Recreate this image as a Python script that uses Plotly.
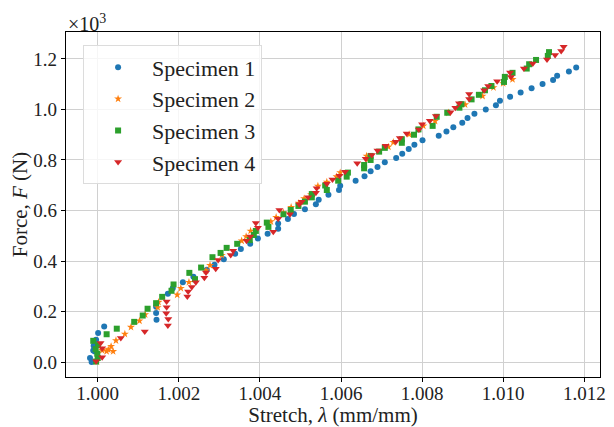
import plotly.graph_objects as go

# Specimen 1
s1_x = [0.99985, 0.99981, 0.99989, 0.99993, 0.99990, 0.99996, 1.00001, 1.00016, 1.00145, 1.00144,
        1.00144, 1.00173, 1.00185, 1.00210, 1.00236, 1.00269, 1.00288, 1.00311, 1.00339, 1.00353,
        1.00376, 1.00395, 1.00419, 1.00445, 1.00445, 1.00469, 1.00484, 1.00511, 1.00538, 1.00545,
        1.00569, 1.00595, 1.00598, 1.00636, 1.00658, 1.00673, 1.00690, 1.00708, 1.00736, 1.00751,
        1.00767, 1.00781, 1.00801, 1.00841, 1.00860, 1.00877, 1.00899, 1.00912, 1.00929, 1.00957,
        1.00982, 1.00992, 1.01017, 1.01043, 1.01070, 1.01097, 1.01123, 1.01133, 1.01162, 1.01180]
s1_y = [0, 16, 46, 42, 64, 88, 115, 141, 167, 194,
        219, 270, 292, 316, 338, 365, 385, 407, 429, 448,
        468, 489, 508, 528, 548, 566, 586, 605, 625, 643,
        662, 681, 698, 718, 736, 755, 772, 791, 808, 825,
        843, 860, 878, 896, 913, 930, 947, 966, 983, 1000,
        1017, 1034, 1050, 1067, 1084, 1101, 1117, 1133, 1150, 1166]

# Specimen 2
s2_x = [0.99998, 1.00011, 1.00022, 1.00026, 1.00033, 1.00038, 1.00045, 1.00067, 1.00082, 1.00103,
        1.00117, 1.00148, 1.00150, 1.00196, 1.00205, 1.00225, 1.00267, 1.00277, 1.00306, 1.00355,
        1.00366, 1.00377, 1.00427, 1.00440, 1.00458, 1.00477, 1.00496, 1.00509, 1.00526, 1.00543,
        1.00565, 1.00589, 1.00598, 1.00663, 1.00667, 1.00717, 1.00729, 1.00768, 1.00803, 1.00832,
        1.00865, 1.00906, 1.00949, 1.00976, 1.01000, 1.01023]
s2_y = [2, 46, 42, 49, 62, 42, 85, 111, 138, 163,
        188, 216, 237, 266, 292, 316, 362, 383, 423, 480,
        497, 519, 556, 573, 591, 613, 629, 647, 663, 697,
        713, 734, 750, 816, 803, 852, 870, 901, 935, 954,
        987, 1019, 1053, 1087, 1103, 1119]

# Specimen 3
s3_x = [0.99996, 1.00000, 0.99999, 0.99995, 1.00001, 0.99989, 1.00022, 1.00047, 1.00090, 1.00111,
        1.00123, 1.00144, 1.00159, 1.00182, 1.00187, 1.00226, 1.00240, 1.00255, 1.00283, 1.00303,
        1.00318, 1.00344, 1.00375, 1.00385, 1.00390, 1.00417, 1.00421, 1.00458, 1.00476, 1.00495,
        1.00511, 1.00528, 1.00528, 1.00561, 1.00565, 1.00593, 1.00614, 1.00617, 1.00657, 1.00657,
        1.00673, 1.00673, 1.00694, 1.00708, 1.00750, 1.00750, 1.00780, 1.00791, 1.00826, 1.00836,
        1.00862, 1.00892, 1.00897, 1.00922, 1.00940, 1.00955, 1.00971, 1.01002, 1.01004, 1.01023,
        1.01058, 1.01064, 1.01081, 1.01110, 1.01113]
s3_y = [2, 16, 33, 51, 67, 84, 110, 132, 159, 184,
        211, 233, 258, 282, 307, 353, 328, 374, 415, 432,
        452, 468, 483, 503, 519, 552, 535, 585, 602, 618,
        635, 652, 665, 699, 681, 718, 734, 750, 767, 780,
        800, 816, 833, 848, 868, 882, 900, 921, 935, 971,
        987, 1007, 1021, 1040, 1058, 1076, 1093, 1109, 1129, 1145,
        1162, 1179, 1196, 1212, 1227]

# Specimen 4
s4_x = [0.99996, 1.00011, 1.00007, 1.00011, 1.00057, 1.00116, 1.00173, 1.00174, 1.00169, 1.00170,
        1.00170, 1.00221, 1.00223, 1.00232, 1.00242, 1.00263, 1.00267, 1.00291, 1.00297, 1.00328,
        1.00334, 1.00367, 1.00376, 1.00390, 1.00395, 1.00433, 1.00448, 1.00445, 1.00474, 1.00497,
        1.00503, 1.00519, 1.00538, 1.00540, 1.00565, 1.00579, 1.00596, 1.00610, 1.00640, 1.00661,
        1.00676, 1.00690, 1.00710, 1.00735, 1.00745, 1.00762, 1.00792, 1.00800, 1.00819, 1.00834,
        1.00870, 1.00882, 1.00891, 1.00916, 1.00916, 1.00953, 1.00963, 1.00985, 1.01017, 1.01019,
        1.01051, 1.01073, 1.01108, 1.01128, 1.01143, 1.01149]
s4_y = [3, 19, 75, 55, 95, 121, 145, 170, 193, 217,
        240, 259, 279, 297, 316, 334, 354, 369, 404, 424,
        441, 480, 497, 550, 532, 516, 602, 567, 585, 625,
        635, 652, 670, 688, 706, 723, 738, 753, 787, 805,
        820, 838, 856, 872, 887, 905, 921, 941, 955, 974,
        989, 1007, 1025, 1061, 1041, 1076, 1093, 1112, 1146, 1129,
        1162, 1182, 1198, 1216, 1231, 1248]

names = ["Specimen 1", "Specimen 2", "Specimen 3", "Specimen 4"]
colors = ["#1f77b4", "#ff7f0e", "#2ca02c", "#d62728"]
symbols = ["circle", "star", "square", "triangle-down"]
sizes = [6, 6, 6, 7]

x_ticks = [1.000, 1.002, 1.004, 1.006, 1.008, 1.010, 1.012]
y_ticks = [0, 200, 400, 600, 800, 1000, 1200]
y_ticktext = ["0.0", "0.2", "0.4", "0.6", "0.8", "1.0", "1.2"]

FONT = "Liberation Serif"

fig = go.Figure()
for i, (xs, ys) in enumerate([(s1_x, s1_y), (s2_x, s2_y), (s3_x, s3_y), (s4_x, s4_y)]):
    fig.add_trace(go.Scatter(
        x=xs, y=ys, mode="markers", name=names[i], legendgroup=names[i],
        marker=dict(color=colors[i], symbol=symbols[i], size=sizes[i], line=dict(width=0)),
    ))

axis_common = dict(
    showline=True, mirror=True, linecolor="black", linewidth=1.2,
    ticks="outside", ticklen=4, tickwidth=1, tickcolor="black",
    showgrid=True, gridcolor="#d0d0d0", gridwidth=1, zeroline=False,
    automargin=False,
    tickfont=dict(family=FONT, size=19, color="#222"),
)

# page body has an 8px margin, so the figure is 8px smaller than the window
fig.update_layout(
    width=606, height=419,
    margin=dict(l=58, r=14, t=24, b=50),
    paper_bgcolor="white", plot_bgcolor="white",
    font=dict(family=FONT, size=19, color="#222"),
    xaxis=dict(range=[0.999218, 1.012387], tickvals=x_ticks, tickformat=".3f",
               ticklabelstandoff=-5,
               title=dict(text="Stretch, <i>λ</i> (mm/mm)", font=dict(family=FONT, size=21), standoff=2),
               **axis_common),
    yaxis=dict(range=[-59.3, 1306.7], tickvals=y_ticks, ticktext=y_ticktext,
               title=dict(text="Force, <i>F</i> (N)", font=dict(family=FONT, size=21), standoff=4),
               **axis_common),
    legend=dict(x=0.032, y=0.961, xanchor="left", yanchor="top",
                bgcolor="rgba(255,255,255,0.8)", bordercolor="#dcdcdc", borderwidth=1,
                font=dict(family=FONT, size=22, color="#222"), itemwidth=58,
                tracegroupgap=0),
    annotations=[dict(text="×10<sup>3</sup>", xref="paper", yref="paper", x=0, y=1,
                      xanchor="left", yanchor="bottom", yshift=-5, showarrow=False,
                      font=dict(family=FONT, size=20, color="#222"))],
)

fig.write_html("out.html")
